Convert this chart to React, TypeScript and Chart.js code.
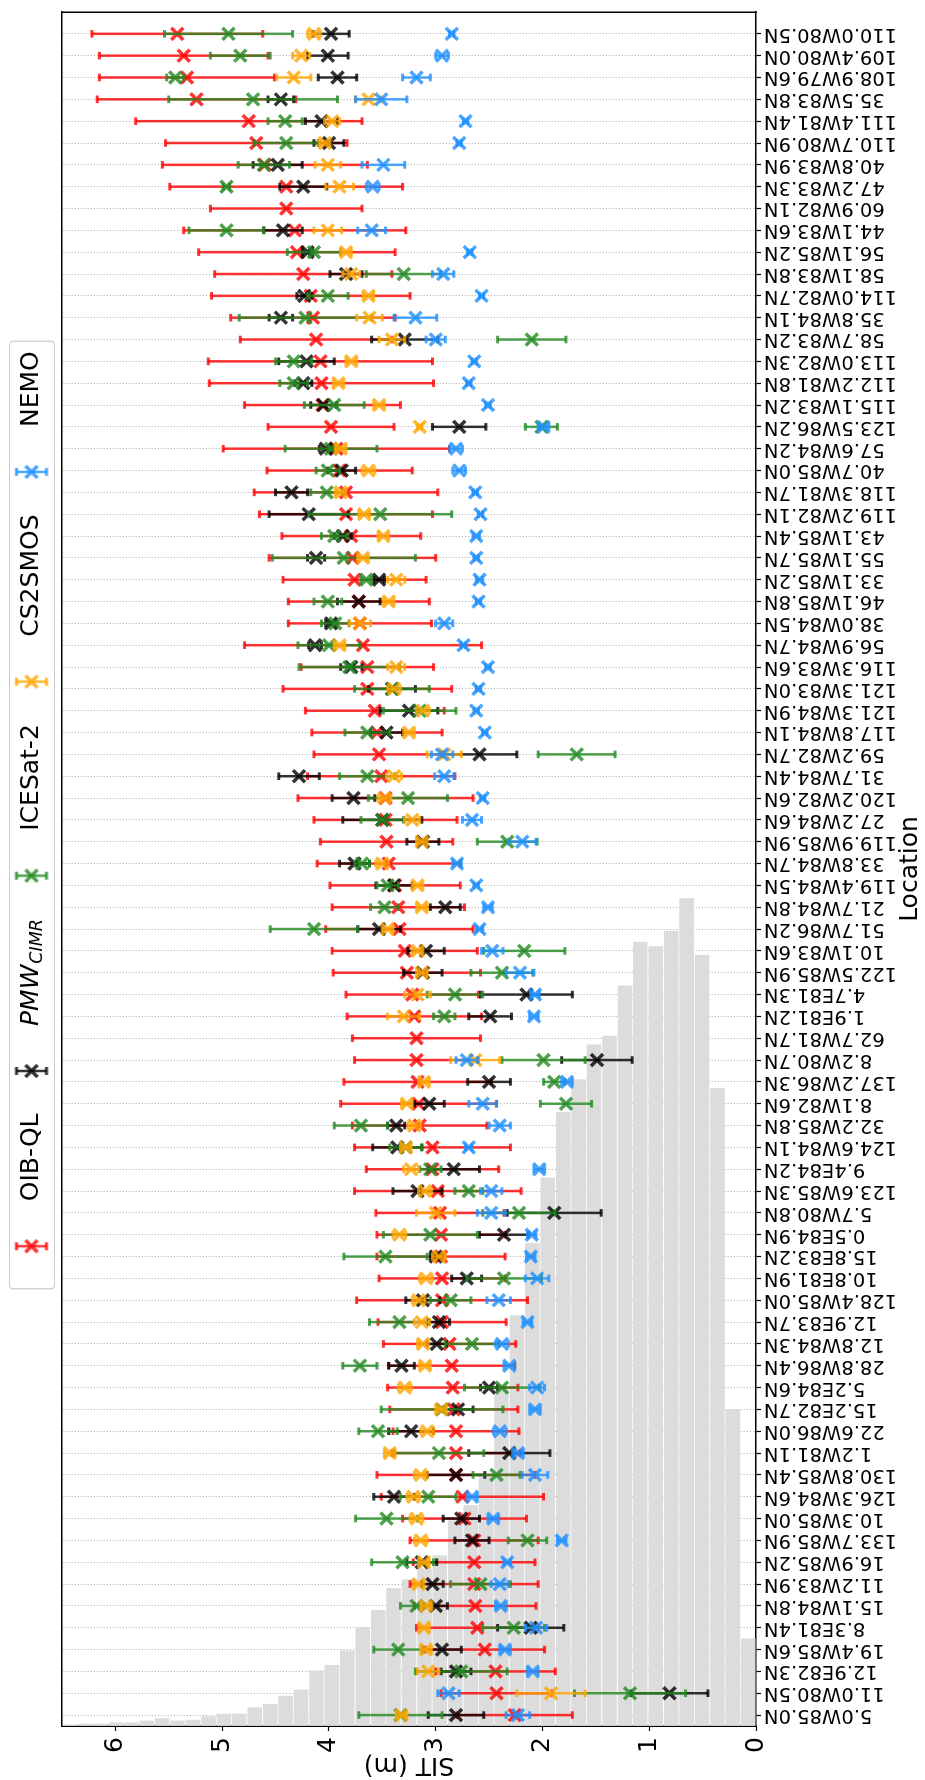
import React, { useEffect, useRef } from "react";
import { Chart, registerables } from "chart.js";

Chart.register(...registerables);

const FONT = "'DejaVu Sans', 'Liberation Sans', sans-serif";

// Category labels, in plotting order (first = bottom of the picture)
const locations = [
  "5.0W85.0N", "11.0W80.5N", "12.9E82.3N", "19.4W85.6N", "8.3E81.4N", "15.1W84.8N", "11.2W83.9N", "16.9W85.2N", "133.7W85.9N", "10.3W85.0N",
  "126.3W84.6N", "130.8W85.4N", "1.2W81.1N", "22.6W86.0N", "15.2E82.7N", "5.2E84.6N", "28.8W86.4N", "12.8W84.3N", "12.9E83.7N", "128.4W85.0N",
  "10.8E81.9N", "15.8E83.2N", "0.5E84.9N", "5.7W80.8N", "123.6W85.3N", "9.4E84.2N", "124.6W84.1N", "32.2W85.8N", "8.1W82.6N", "137.2W86.3N",
  "8.2W80.7N", "62.7W81.7N", "1.9E81.2N", "4.7E81.3N", "122.5W85.9N", "10.1W83.6N", "51.7W86.2N", "21.7W84.8N", "119.4W84.5N", "33.8W84.7N",
  "119.9W85.9N", "27.2W84.6N", "120.2W82.6N", "31.7W84.4N", "59.2W82.7N", "117.8W84.1N", "121.3W84.9N", "121.3W83.0N", "116.3W83.6N", "56.9W84.7N",
  "38.0W84.5N", "46.1W85.8N", "33.1W85.2N", "55.1W85.7N", "43.1W85.4N", "119.2W82.1N", "118.3W81.7N", "40.7W85.0N", "57.6W84.2N", "123.5W86.2N",
  "115.1W83.2N", "112.2W81.8N", "113.0W82.3N", "58.7W83.2N", "35.8W84.1N", "114.0W82.7N", "58.1W83.8N", "56.1W85.2N", "44.1W83.6N", "60.9W82.1N",
  "47.2W83.3N", "40.8W83.9N", "110.7W80.9N", "111.4W81.4N", "35.5W83.8N", "108.9W79.6N", "109.4W80.0N", "110.0W80.5N",
];

const oibVal = [
  2.26, 2.43, 2.44, 2.54, 2.61, 2.63, 2.64, 2.64, 2.64, 2.73,
  2.75, 2.81, 2.81, 2.81, 2.83, 2.84, 2.85, 2.87, 2.94, 2.94,
  2.94, 2.95, 2.95, 2.96, 2.98, 3.03, 3.03, 3.15, 3.16, 3.17,
  3.18, 3.18, 3.2, 3.22, 3.27, 3.29, 3.34, 3.35, 3.38, 3.44,
  3.46, 3.47, 3.47, 3.51, 3.53, 3.55, 3.57, 3.64, 3.64, 3.68,
  3.71, 3.72, 3.76, 3.78, 3.79, 3.84, 3.84, 3.9, 3.93, 3.98,
  4.06, 4.07, 4.08, 4.12, 4.15, 4.17, 4.24, 4.3, 4.32, 4.4,
  4.4, 4.6, 4.68, 4.75, 5.24, 5.33, 5.36, 5.42,
];
const oibErr = [
  0.54, 0.52, 0.56, 0.56, 0.57, 0.57, 0.6, 0.57, 0.6, 0.58,
  0.76, 0.74, 0.6, 0.59, 0.6, 0.61, 0.59, 0.62, 0.6, 0.8,
  0.59, 0.6, 0.6, 0.6, 0.78, 0.62, 0.73, 0.63, 0.73, 0.69,
  0.58, 0.6, 0.63, 0.62, 0.69, 0.68, 0.69, 0.62, 0.61, 0.67,
  0.62, 0.67, 0.82, 0.69, 0.61, 0.61, 0.65, 0.79, 0.62, 1.11,
  0.67, 0.66, 0.67, 0.78, 0.65, 0.81, 0.86, 0.68, 1.06, 0.59,
  0.73, 1.05, 1.05, 0.71, 0.77, 0.93, 0.83, 0.92, 1.04, 0.71,
  1.09, 0.96, 0.85, 1.06, 0.93, 0.82, 0.79, 0.8,
];

const pmwVal = [
  2.81, 0.81, 2.81, 2.94, 2.11, 3.0, 3.03, 3.13, 2.66, 2.76,
  3.39, 2.81, 2.31, 3.23, 2.79, 2.5, 3.32, 2.99, 2.97, 3.12,
  2.71, 3.0, 2.36, 1.89, 3.17, 2.83, 3.36, 3.37, 3.06, 2.5,
  1.49, null, 2.49, 2.15, 3.12, 3.09, 3.53, 2.91, 3.39, 3.76,
  3.12, 3.5, 3.77, 4.28, 2.59, 3.46, 3.25, 3.41, 3.79, 4.13,
  3.98, 3.72, 3.53, 4.12, 3.87, 4.19, 4.35, 3.88, 4.03, 2.78,
  4.05, 4.24, 4.21, 3.29, 4.45, 4.23, 3.84, 4.2, 4.43, null,
  4.24, 4.48, 4.0, 4.07, 4.45, 3.92, 4.01, 3.98,
];
const pmwErr = [
  0.26, 0.36, 0.14, 0.18, 0.31, 0.11, 0.1, 0.14, 0.16, 0.17,
  0.19, 0.27, 0.38, 0.21, 0.14, 0.08, 0.12, 0.09, 0.1, 0.16,
  0.14, 0.05, 0.23, 0.44, 0.23, 0.24, 0.23, 0.08, 0.14, 0.2,
  0.33, null, 0.2, 0.43, 0.18, 0.17, 0.2, 0.14, 0.17, 0.14,
  0.15, 0.37, 0.2, 0.19, 0.35, 0.15, 0.27, 0.22, 0.1, 0.06,
  0.05, 0.2, 0.05, 0.08, 0.08, 0.37, 0.15, 0.13, 0.06, 0.25,
  0.12, 0.08, 0.26, 0.31, 0.11, 0.07, 0.15, 0.05, 0.18, null,
  0.22, 0.23, 0.14, 0.15, 0.12, 0.18, 0.19, 0.17,
];

const icesatVal = [
  3.33, 1.18, 2.76, 3.35, 2.27, 3.18, 2.58, 3.31, 2.14, 3.46,
  3.07, 2.43, 2.97, 3.54, 2.94, 2.38, 3.71, 2.66, 3.34, 2.86,
  2.36, 3.47, 3.05, 2.22, 2.69, 3.05, 3.28, 3.7, 1.78, 1.89,
  1.99, null, 2.92, 2.82, 2.38, 2.17, 4.14, 3.48, 3.45, 3.69,
  2.33, 3.5, 3.26, 3.64, 1.68, 3.64, 3.15, 3.41, 3.81, 4.0,
  3.94, 4.01, 3.65, 3.86, 3.95, 3.52, 4.02, 4.01, 3.98, 2.01,
  3.95, 4.33, 4.33, 2.1, 4.22, 4.01, 3.3, 4.14, 4.96, null,
  4.96, 4.61, 4.4, 4.41, 4.71, 5.44, 4.83, 4.94,
];
const icesatErr = [
  0.39, 0.52, 0.43, 0.23, 0.29, 0.15, 0.28, 0.29, 0.18, 0.29,
  0.26, 0.22, 0.42, 0.18, 0.57, 0.35, 0.16, 0.25, 0.28, 0.19,
  0.35, 0.39, 0.44, 0.34, 0.13, 0.1, 0.15, 0.25, 0.24, 0.1,
  0.39, null, 0.1, 0.26, 0.29, 0.38, 0.41, 0.13, 0.1, 0.07,
  0.28, 0.2, 0.37, 0.26, 0.36, 0.21, 0.34, 0.35, 0.47, 0.29,
  0.13, 0.13, 0.05, 0.67, 0.12, 0.67, 0.15, 0.11, 0.43, 0.15,
  0.28, 0.13, 0.17, 0.32, 0.62, 0.19, 0.35, 0.25, 0.35, null,
  0.03, 0.24, 0.3, 0.16, 0.79, 0.08, 0.28, 0.6,
];

const cs2Val = [
  3.32, 1.92, 3.07, 3.09, 3.11, 3.09, 3.16, 3.11, 3.14, 3.18,
  3.21, 3.14, 3.43, 3.08, 2.95, 3.29, 3.1, 3.12, 3.13, 3.16,
  3.09, 2.97, 3.34, 3.0, 3.1, 3.23, 3.28, 3.2, 3.27, 3.11,
  2.63, null, 3.3, 3.17, 3.13, 3.17, 3.45, 3.13, 3.17, 3.5,
  3.13, 3.22, 3.48, 3.39, 2.92, 3.25, 3.12, 3.39, 3.37, 3.9,
  3.71, 3.44, 3.37, 3.68, 3.49, 3.67, 3.89, 3.63, 3.89, 3.15,
  3.53, 3.91, 3.79, 3.41, 3.62, 3.63, 3.79, 3.84, 4.01, null,
  3.9, 4.01, 4.04, 3.97, 3.63, 4.33, 4.26, 4.14,
];
const cs2Err = [
  0.05, 0.32, 0.1, 0.05, 0.05, 0.05, 0.05, 0.05, 0.06, 0.06,
  0.06, 0.06, 0.05, 0.06, 0.05, 0.06, 0.05, 0.05, 0.07, 0.06,
  0.06, 0.06, 0.06, 0.18, 0.06, 0.07, 0.05, 0.06, 0.05, 0.05,
  0.23, null, 0.15, 0.12, 0.05, 0.05, 0.05, 0.05, 0.05, 0.06,
  0.05, 0.07, 0.06, 0.07, 0.16, 0.05, 0.06, 0.06, 0.08, 0.05,
  0.1, 0.05, 0.08, 0.05, 0.05, 0.05, 0.05, 0.06, 0.05, 0.02,
  0.05, 0.05, 0.05, 0.12, 0.12, 0.05, 0.08, 0.05, 0.13, null,
  0.13, 0.12, 0.05, 0.07, 0.12, 0.16, 0.08, 0.06,
];

const nemoVal = [
  2.23, 2.88, 2.09, 2.35, 2.06, 2.39, 2.4, 2.33, 1.82, 2.46,
  2.66, 2.07, 2.23, 2.4, 2.07, 2.05, 2.31, 2.38, 2.14, 2.41,
  2.05, 2.11, 2.1, 2.48, 2.48, 2.03, 2.69, 2.4, 2.56, 1.77,
  2.71, null, 2.08, 2.07, 2.21, 2.47, 2.59, 2.51, 2.62, 2.8,
  2.19, 2.66, 2.56, 2.92, 2.94, 2.54, 2.62, 2.6, 2.51, 2.74,
  2.92, 2.6, 2.59, 2.62, 2.62, 2.58, 2.63, 2.78, 2.81, 1.99,
  2.51, 2.69, 2.64, 3.0, 3.19, 2.57, 2.93, 2.68, 3.6, null,
  3.59, 3.49, 2.78, 2.72, 3.51, 3.18, 2.94, 2.85,
];
const nemoErr = [
  0.11, 0.1, 0.05, 0.05, 0.1, 0.05, 0.08, 0.03, 0.04, 0.05,
  0.05, 0.12, 0.05, 0.06, 0.05, 0.07, 0.05, 0.06, 0.04, 0.11,
  0.11, 0.04, 0.04, 0.13, 0.1, 0.05, 0.03, 0.1, 0.13, 0.05,
  0.1, null, 0.04, 0.04, 0.13, 0.1, 0.03, 0.04, 0.02, 0.04,
  0.13, 0.09, 0.02, 0.09, 0.1, 0.02, 0.02, 0.02, 0.02, 0.02,
  0.08, 0.02, 0.03, 0.02, 0.03, 0.02, 0.02, 0.06, 0.06, 0.05,
  0.02, 0.02, 0.02, 0.09, 0.2, 0.02, 0.1, 0.02, 0.13, null,
  0.06, 0.2, 0.02, 0.02, 0.24, 0.13, 0.06, 0.02,
];

// Background histogram of SIT (45 bins from 0 to 6.5 m), length on a hidden twin axis
const histCounts = [
  4.0, 14.5, 29.2, 35.3, 37.9, 36.4, 35.7, 35.9, 33.9, 31.6,
  31.2, 29.6, 28.1, 25.1, 22.1, 18.8, 15.5, 11.5, 10.1, 9.4,
  7.8, 7.2, 6.7, 6.3, 5.3, 4.5, 3.45, 2.78, 2.53, 1.65,
  1.37, 1.0, 0.84, 0.55, 0.55, 0.43, 0.27, 0.23, 0.34, 0.23,
  0.15, 0.15, 0.09, 0.09, 0.05,
];
const histMax = 6.5;
const histCountAxisMax = 78.5;

const sitTicks = [0, 1, 2, 3, 4, 5, 6];

const seriesNames = ["OIB-QL", "PMW_CIMR", "ICESat-2", "CS2SMOS", "NEMO"];
const seriesColors = [
  "rgba(255,0,0,0.8)",
  "rgba(0,0,0,0.8)",
  "rgba(34,139,34,0.8)",
  "rgba(255,165,0,0.8)",
  "rgba(30,144,255,0.8)",
];
const seriesVals = [oibVal, pmwVal, icesatVal, cs2Val, nemoVal];
const seriesErrs = [oibErr, pmwErr, icesatErr, cs2Err, nemoErr];

const LEGEND_SHIFT = 80;

function makeHandle(color: string): HTMLCanvasElement {
  const c = document.createElement("canvas");
  c.width = 18;
  c.height = 36;
  const g = c.getContext("2d") as CanvasRenderingContext2D;
  g.strokeStyle = color;
  g.lineWidth = 2.5;
  g.beginPath();
  g.moveTo(9, 3);
  g.lineTo(9, 33);
  g.stroke();
  g.lineWidth = 3;
  g.beginPath();
  g.moveTo(5, 3);
  g.lineTo(13, 3);
  g.moveTo(5, 33);
  g.lineTo(13, 33);
  g.stroke();
  g.lineWidth = 3.5;
  g.beginPath();
  g.moveTo(3, 12);
  g.lineTo(15, 24);
  g.moveTo(15, 12);
  g.lineTo(3, 24);
  g.stroke();
  return c;
}

const legendShift = {
  id: "legendShift",
  afterLayout(chart: any) {
    const lg = chart.legend;
    if (!lg) return;
    lg.left += LEGEND_SHIFT;
    lg.right += LEGEND_SHIFT;
  },
};

const legendFrame = {
  id: "legendFrame",
  beforeDraw(chart: any) {
    const lg = chart.legend;
    if (!lg || !lg.legendHitBoxes || !lg.legendHitBoxes.length) return;
    const hb = lg.legendHitBoxes;
    const left = hb[0].left - 10;
    const last = hb[hb.length - 1];
    const right = last.left + last.width + 10;
    const top = lg.top + 0.5;
    const bottom = lg.bottom + 0.5;
    const ctx = chart.ctx;
    ctx.save();
    ctx.beginPath();
    const r = 4;
    ctx.moveTo(left + r, top);
    ctx.lineTo(right - r, top);
    ctx.quadraticCurveTo(right, top, right, top + r);
    ctx.lineTo(right, bottom - r);
    ctx.quadraticCurveTo(right, bottom, right - r, bottom);
    ctx.lineTo(left + r, bottom);
    ctx.quadraticCurveTo(left, bottom, left, bottom - r);
    ctx.lineTo(left, top + r);
    ctx.quadraticCurveTo(left, top, left + r, top);
    ctx.closePath();
    ctx.fillStyle = "rgba(255,255,255,0.8)";
    ctx.fill();
    ctx.strokeStyle = "#cccccc";
    ctx.lineWidth = 1.2;
    ctx.stroke();
    ctx.restore();
  },
};

const pmwLabel = {
  id: "pmwLabel",
  afterDraw(chart: any) {
    const lg = chart.legend;
    if (!lg || !lg.legendHitBoxes || lg.legendHitBoxes.length < 2) return;
    const hb = lg.legendHitBoxes[1];
    const x = hb.left + 65 + 12.5;
    const y = hb.top + hb.height / 2;
    const ctx = chart.ctx;
    ctx.save();
    ctx.fillStyle = "#000";
    ctx.textBaseline = "middle";
    ctx.textAlign = "left";
    ctx.font = "italic 25px " + FONT;
    ctx.fillText("PMW", x, y);
    const w = ctx.measureText("PMW").width;
    ctx.font = "italic 17.5px " + FONT;
    ctx.fillText("CIMR", x + w + 1, y + 6);
    ctx.restore();
  },
};

export default function App() {
  const ref = useRef<HTMLCanvasElement | null>(null);

  useEffect(() => {
    if (!ref.current) return;
    Chart.defaults.font.family = FONT;
    Chart.defaults.color = "#000";

    const datasets: any[] = [];
    const markerIdx: number[] = [];
    seriesNames.forEach((name, si) => {
      const vals = seriesVals[si];
      const errs = seriesErrs[si];
      const color = seriesColors[si];
      const errData: any[] = [];
      vals.forEach((v, i) => {
        if (v === null) return;
        const e = errs[i] as number;
        errData.push({ x: i, y: v - e }, { x: i, y: v + e }, { x: i, y: null });
      });
      datasets.push({
        type: "line",
        label: name + " error",
        data: errData,
        xAxisID: "x",
        yAxisID: "y",
        borderColor: color,
        borderWidth: 2.5,
        spanGaps: false,
        fill: false,
        pointStyle: "line",
        pointRadius: 3.8,
        pointBorderWidth: 3,
        pointBorderColor: color,
        pointBackgroundColor: color,
        order: (4 - si) * 2 + 1,
      });
      markerIdx.push(datasets.length);
      datasets.push({
        type: "line",
        label: name,
        data: vals
          .map((v, i) => ({ x: i, y: v }))
          .filter((p) => p.y !== null),
        xAxisID: "x",
        yAxisID: "y",
        showLine: false,
        pointStyle: "crossRot",
        pointRadius: 8.5,
        pointBorderWidth: 3.5,
        pointBorderColor: color,
        pointBackgroundColor: color,
        order: (4 - si) * 2,
      });
    });

    const binW = histMax / histCounts.length;
    datasets.push({
      type: "bar",
      label: "SIT distribution",
      indexAxis: "y",
      xAxisID: "x2",
      yAxisID: "y",
      data: histCounts.map((c, b) => ({ x: c, y: (b + 0.5) * binW })),
      backgroundColor: "#dcdcdc",
      borderWidth: 0,
      barThickness: 13.9,
      grouped: false,
      order: 50,
    });

    const handles = seriesColors.map((c) => makeHandle(c));

    const chart = new Chart(ref.current, {
      type: "line",
      data: { datasets },
      options: {
        responsive: false,
        animation: false,
        devicePixelRatio: 1,
        events: [],
        layout: { padding: { top: 9, right: 10, bottom: 0, left: 0 } },
        plugins: {
          tooltip: { enabled: false },
          legend: {
            display: true,
            position: "top",
            labels: {
              usePointStyle: true,
              pointStyleWidth: 65,
              padding: 10,
              font: { size: 25, family: FONT },
              color: "#000",
              generateLabels: () =>
                seriesNames.map((name, si) => ({
                  text: si === 1 ? "PMWCIM" : name,
                  fillStyle: seriesColors[si],
                  strokeStyle: seriesColors[si],
                  lineWidth: 0,
                  pointStyle: handles[si],
                  hidden: false,
                  datasetIndex: markerIdx[si],
                  fontColor: si === 1 ? "rgba(0,0,0,0)" : "#000",
                })),
            },
          },
        },
        scales: {
          x: {
            type: "linear",
            position: "bottom",
            min: -0.5,
            max: locations.length,
            bounds: "data",
            offset: false,
            afterBuildTicks: (s: any) => {
              s.ticks = locations.map((_, i) => ({ value: i }));
            },
            afterFit: (s: any) => {
              s.height = 169;
            },
            ticks: {
              autoSkip: false,
              minRotation: 90,
              maxRotation: 90,
              padding: 3,
              color: "#000",
              font: { size: 19.5, family: FONT },
              callback: (v: any) => locations[v] ?? "",
            },
            grid: {
              offset: false,
              color: "#b4b4b4",
              lineWidth: 1,
              drawTicks: true,
              tickLength: 5,
              tickColor: "#000",
              tickWidth: 1.2,
            },
            border: { display: true, color: "#000", width: 1.5, dash: [1.2, 2] },
            title: {
              display: true,
              text: "Location",
              color: "#000",
              font: { size: 25, family: FONT },
              padding: { top: 0, bottom: 0 },
            },
          },
          y: {
            type: "linear",
            position: "left",
            min: 0,
            max: 6.5,
            offset: false,
            bounds: "data",
            afterBuildTicks: (s: any) => {
              s.ticks = sitTicks.map((v) => ({ value: v }));
            },
            afterFit: (s: any) => {
              s.width = 54;
            },
            ticks: { padding: 6, color: "#000", font: { size: 25, family: FONT } },
            grid: {
              offset: false,
              drawOnChartArea: false,
              drawTicks: true,
              tickLength: 5,
              tickColor: "#000",
              tickWidth: 1.2,
            },
            border: { display: true, color: "#000", width: 1.5 },
            title: {
              display: true,
              text: "SIT (m)",
              color: "#000",
              font: { size: 25, family: FONT },
              padding: { top: 0, bottom: 0 },
            },
          },
          x2: {
            type: "linear",
            position: "top",
            min: 0,
            max: histCountAxisMax,
            offset: false,
            ticks: { display: false },
            grid: { offset: false, drawOnChartArea: false, drawTicks: false },
            border: { display: true, color: "#000", width: 1.5 },
            afterFit: (s: any) => {
              s.height = 8;
            },
          },
          y2: {
            type: "linear",
            position: "right",
            min: 0,
            max: 1,
            offset: false,
            ticks: { display: false },
            grid: { offset: false, drawOnChartArea: false, drawTicks: false },
            border: { display: true, color: "#000", width: 1.5 },
            afterFit: (s: any) => {
              s.width = 0;
            },
          },
        },
      } as any,
      plugins: [legendShift, legendFrame, pmwLabel],
    } as any);

    return () => chart.destroy();
  }, []);

  return (
    <div
      style={{
        position: "absolute",
        left: 0,
        top: 0,
        width: 925,
        height: 1780,
        overflow: "hidden",
        background: "#ffffff",
      }}
    >
      <div
        style={{
          position: "absolute",
          left: 0,
          top: 0,
          width: 1780,
          height: 925,
          transformOrigin: "0 0",
          transform: "translate(0px, 1780px) rotate(-90deg)",
        }}
      >
        <canvas ref={ref} width={1780} height={925} style={{ display: "block", width: 1780, height: 925 }} />
      </div>
    </div>
  );
}
